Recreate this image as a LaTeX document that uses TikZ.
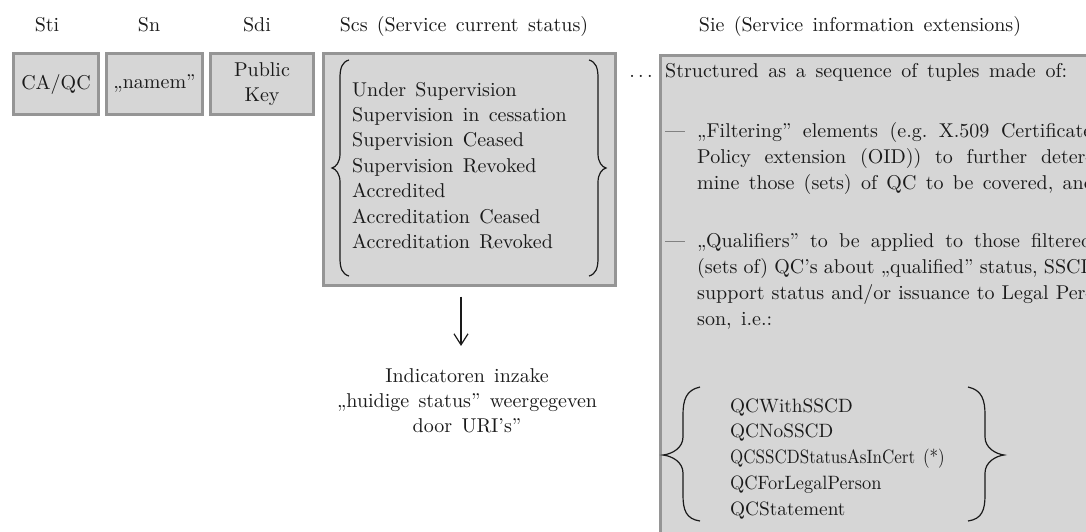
\documentclass[tikz,border=0pt]{standalone}
\usepackage{fontspec}
\usepackage{graphicx}
\setmainfont{lmroman10-regular.otf}[WordSpace=1.4]
\usetikzlibrary{arrows.meta}
\definecolor{boxfill}{HTML}{D6D6D6}
\definecolor{boxline}{HTML}{959595}
\definecolor{ink}{HTML}{1A1A1A}
\frenchspacing
\newcommand\jline[1]{\makebox[395pt][s]{#1}}
\begin{document}
\begin{tikzpicture}[x=1pt,y=-1pt,
  every node/.style={text=ink, font=\fontsize{20}{25.4}\selectfont, inner sep=0pt},
  box/.style={draw=boxline, fill=boxfill, line width=3pt},
  hdr/.style={anchor=base},
  brc/.style={draw=ink, line width=1.2pt},
  arr/.style={draw=ink, line width=1.2pt, -{Straight Barb[length=11pt,width=14pt]}}]
\useasboundingbox (0,0) rectangle (1086,531);

% headers
\node[hdr] (hsti) at (47,31) {Sti};
\node[hdr] (hsn) at (149,31) {Sn};
\node[hdr] (hsdi) at (257,31) {Sdi};
\node[hdr] (hscs) at (464,31) {Scs (Service current status)};
\node[hdr] (hsie) at (860,31) {Sie (Service information extensions)};

% small boxes
\node[box, minimum width=85pt, minimum height=61pt] (sti) at (56,84) {CA/QC};
\node[box, minimum width=96pt, minimum height=61pt] (sn) at (154.5,84) {„namem”};
\node[box, minimum width=103pt, minimum height=61pt, align=center] (sdi) at (262,84) {Public\\Key};

% Scs box
\node[box, minimum width=292pt, minimum height=232pt] (scs) at (469.5,169.5) {};
\node[anchor=base west] (scslist) at (352,96) {\parbox[t]{240pt}{\raggedright
  Under Supervision\\
  Supervision in cessation\\
  Supervision Ceased\\
  Supervision Revoked\\
  Accredited\\
  Accreditation Ceased\\
  Accreditation Revoked}};
\path[brc] (349,60) .. controls (342,62) and (340,68) .. (340,78) -- (340,154)
  .. controls (340,162) and (336,167) .. (332,168)
  .. controls (336,169) and (340,174) .. (340,182) -- (340,258)
  .. controls (340,268) and (342,274) .. (349,276);
\path[brc] (589,60) .. controls (596,62) and (598,68) .. (598,78) -- (598,154)
  .. controls (598,162) and (602,167) .. (606,168)
  .. controls (602,169) and (598,174) .. (598,182) -- (598,258)
  .. controls (598,268) and (596,274) .. (589,276);

% arrow and indicator text
\node[anchor=base] (ind) at (467,382) {\parbox[t]{320pt}{\centering
  Indicatoren inzake\\
  „huidige status” weergegeven\\
  door URI’s”}};
\draw[arr, shorten <=9.5pt, shorten >=22pt] ([xshift=-8.5pt]scs.south) -- ([xshift=-6pt]ind.north);

% Sie box
\node[box, anchor=north west, minimum width=460pt, minimum height=520pt] (sie) at (658.5,53.5) {};
\node[anchor=base] (dots) at (641,77) {.\kern3.4pt.\kern3.4pt.};
\node[anchor=base west] (s1) at (665,77) {\makebox[402pt][s]{Structured as a sequence of tuples made of:}};
\node[anchor=base west] (d1) at (665,137) {—};
\node[anchor=base west] (p1) at (697,137) {\parbox[t]{420pt}{\fontsize{20}{26}\selectfont
  \jline{„Filtering” elements (e.g. X.509 Certificate}\\
  \jline{Policy extension (OID)) to further deter-}\\
  mine those (sets) of QC to be covered, and}};
\node[anchor=base west] (d2) at (665,247) {—};
\node[anchor=base west] (p2) at (697,247) {\parbox[t]{420pt}{\fontsize{20}{26.3}\selectfont
  \jline{„Qualifiers” to be applied to those filtered}\\
  \jline{(sets of) QC’s about „qualified” status, SSCD}\\
  \jline{support status and/or issuance to Legal Per-}\\
  son, i.e.:}};

\node[anchor=base west] (qcl) at (730,412) {\parbox[t]{260pt}{\raggedright\fontsize{19.3}{25.75}\selectfont
  QCWithSSCD\\
  QCNoSSCD\\
  \scalebox{0.88}[1]{QCSSCDStatusAsInCert (*)}\\
  \scalebox{0.95}[1]{QCForLegalPerson}\\
  QCStatement}};
\path[brc] (700,387) .. controls (686,390) and (683,400) .. (683,415) -- (683,437)
  .. controls (683,448) and (672,454) .. (663,455)
  .. controls (672,456) and (683,462) .. (683,473) -- (683,495)
  .. controls (683,510) and (686,519) .. (700,521);
\path[brc] (968,387) .. controls (982,390) and (985,400) .. (985,415) -- (985,437)
  .. controls (985,448) and (996,454) .. (1004,455)
  .. controls (996,456) and (985,462) .. (985,473) -- (985,495)
  .. controls (985,510) and (982,519) .. (968,521);
\end{tikzpicture}
\end{document}
